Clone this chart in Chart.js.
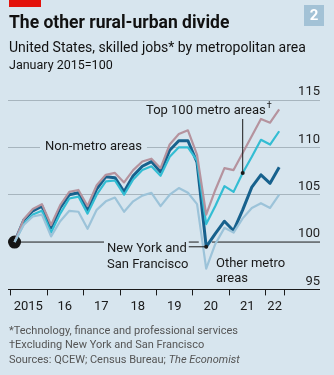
<!DOCTYPE html>
<html>
<head>
<meta charset="utf-8">
<script src="https://cdn.jsdelivr.net/npm/chart.js@4.4.1/dist/chart.umd.min.js"></script>
<style>
  html, body { margin: 0; padding: 0; background: #d7e5ee; }
  #wrap { position: relative; width: 334px; height: 375px; overflow: hidden;
          font-family: Roboto, sans-serif; color: #111; }
  #wrap div { position: absolute; white-space: nowrap; line-height: 1; }
  #red { left: 9px; top: 0; width: 32px; height: 7px; background: #e3120b; }
  #num { left: 304px; top: 5px; width: 20px; height: 21px; background: #a3c2d6; color: #fff;
         font: bold 15px Roboto, sans-serif; text-align: center; line-height: 21px !important; }
  #title { left: 9px; top: 14px; font-size: 17.5px; font-weight: bold; }
  #sub { left: 9px; top: 40px; font-size: 14px; }
  #base { left: 9px; top: 59px; font-size: 12.5px; }
  .foot { left: 9px; font-size: 11px; color: #555; }
  canvas { position: absolute; left: 0; top: 0; }
</style>
</head>
<body>
<div id="wrap">
  <canvas id="chart" width="334" height="375"></canvas>
  <div id="red"></div>
  <div id="num">2</div>
  <div id="title">The other rural-urban divide</div>
  <div id="sub">United States, skilled jobs* by metropolitan area</div>
  <div id="base">January 2015=100</div>
  <div class="foot" style="top:325px">*Technology, finance and professional services</div>
  <div class="foot" style="top:339px">†Excluding New York and San Francisco</div>
  <div class="foot" style="top:354px">Sources: QCEW; Census Bureau; <i>The Economist</i></div>
</div>
<script>
const quarters = [
  "2015Q1","2015Q2","2015Q3","2015Q4","2016Q1","2016Q2","2016Q3","2016Q4",
  "2017Q1","2017Q2","2017Q3","2017Q4","2018Q1","2018Q2","2018Q3","2018Q4",
  "2019Q1","2019Q2","2019Q3","2019Q4","2020Q1","2020Q2","2020Q3","2020Q4",
  "2021Q1","2021Q2","2021Q3","2021Q4","2022Q1","2022Q2"
];
const otherMetro = [
  100.0, 101.8, 102.7, 102.9, 100.6, 102.2, 103.3, 103.2,
  101.4, 103.4, 104.3, 104.7, 103.2, 104.3, 104.9, 105.2,
  103.8, 105.0, 105.7, 105.2, 104.0, 97.2, 99.8, 101.5,
  101.0, 102.5, 103.6, 104.1, 103.6, 105.0
];
const nonMetro = [
  100.0, 102.4, 103.5, 104.0, 101.8, 103.9, 105.3, 105.5,
  103.8, 106.0, 107.1, 107.3, 106.3, 107.6, 108.5, 108.8,
  107.8, 110.3, 111.4, 111.8, 109.2, 102.9, 105.5, 107.8,
  107.6, 109.4, 111.2, 113.0, 112.6, 114.0
];
const top100 = [
  100.0, 101.9, 102.9, 103.3, 101.0, 103.0, 104.6, 104.8,
  103.0, 105.0, 106.4, 106.5, 105.0, 106.6, 107.6, 108.0,
  107.0, 109.0, 110.0, 110.0, 108.6, 101.9, 103.8, 105.9,
  105.3, 107.3, 109.0, 110.8, 110.3, 111.7
];
const nySf = [
  100.0, 102.3, 103.3, 103.8, 101.5, 103.6, 105.0, 105.2,
  103.4, 105.6, 106.9, 106.8, 105.3, 107.0, 108.0, 108.5,
  107.4, 109.7, 110.7, 110.7, 108.4, 99.5, 100.9, 102.2,
  101.2, 103.4, 105.8, 107.1, 106.2, 107.9
];
const yearTicks = [2015, 2016, 2017, 2018, 2019, 2020, 2021, 2022, 2022.5];
const yearLabels = ["2015", "16", "17", "18", "19", "20", "21", "22"];

// quarter label -> middle of the quarter, in decimal years
const qx = quarters.map(q => +q.slice(0, 4) + (+q.slice(5) - 1) / 4 + 0.125);
const pts = vals => vals.map((v, i) => ({ x: qx[i], y: v }));
const labelPos = yearLabels.map((_, i) => (yearTicks[i] + yearTicks[i + 1]) / 2);

const FONT = 'Roboto, sans-serif';
const INK = '#1a1a1a';
const BG = '#d7e5ee';
const AS = 13; // annotation font size

function txt(ctx, s, x, y, size, align) {
  ctx.font = size + 'px ' + FONT;
  ctx.textAlign = align || 'left';
  ctx.textBaseline = 'middle';
  ctx.fillText(s, x, y);
  return ctx.measureText(s).width;
}

const annotations = {
  id: 'annotations',
  beforeDatasetsDraw(chart) {
    const { ctx, scales: { x, y }, chartArea } = chart;
    ctx.save();
    // label over the 110 gridline
    ctx.font = AS + 'px ' + FONT;
    const w = ctx.measureText('Non-metro areas').width;
    const nx = 45, ny = y.getPixelForValue(110);
    ctx.fillStyle = BG;
    ctx.fillRect(nx - 5, ny - 9, w + 10, 18);
    ctx.fillStyle = INK;
    txt(ctx, 'Non-metro areas', nx, ny - 1, AS);

    // 100 line, broken by the New York label
    const y100 = y.getPixelForValue(100);
    const nyX = 107;
    ctx.font = AS + 'px ' + FONT;
    const nyW = ctx.measureText('New York and').width;
    ctx.strokeStyle = INK;
    ctx.lineWidth = 1;
    ctx.beginPath();
    ctx.moveTo(chartArea.left, y100); ctx.lineTo(nyX - 3, y100);
    ctx.moveTo(nyX + nyW + 2, y100); ctx.lineTo(nyX + nyW + 12, y100);
    ctx.moveTo(x.getPixelForValue(2020.53), y100); ctx.lineTo(chartArea.right, y100);
    ctx.stroke();
    ctx.restore();
  },
  afterDatasetsDraw(chart) {
    const { ctx, scales: { x, y } } = chart;
    ctx.save();
    ctx.fillStyle = INK;
    ctx.strokeStyle = INK;
    ctx.lineWidth = 1;

    // x axis tick marks
    const yb = y.getPixelForValue(95);
    ctx.beginPath();
    yearTicks.forEach(v => {
      const px = Math.round(x.getPixelForValue(v)) + 0.5;
      ctx.moveTo(px, yb); ctx.lineTo(px, yb + 6);
    });
    ctx.stroke();

    // New York and San Francisco
    const nyX = 107;
    const nyW = txt(ctx, 'New York and', nyX, 249, AS);
    txt(ctx, 'San Francisco', nyX, 265, AS);
    const low = chart.getDatasetMeta(3).data[21];
    ctx.beginPath();
    ctx.moveTo(nyX + nyW + 2, low.y); ctx.lineTo(low.x, low.y);
    ctx.stroke();
    ctx.beginPath(); ctx.arc(low.x, low.y, 2, 0, Math.PI * 2); ctx.fill();

    // Other metro areas
    txt(ctx, 'Other metro', 216, 264, AS);
    txt(ctx, 'areas', 216, 279, AS);

    // Top 100 metro areas
    const tw = txt(ctx, 'Top 100 metro areas', 146, 111, AS);
    txt(ctx, '†', 146 + tw + 1, 106, 9);
    const tp = chart.getDatasetMeta(2).data[25];
    ctx.beginPath();
    ctx.moveTo(tp.x, 119); ctx.lineTo(tp.x, tp.y);
    ctx.stroke();
    ctx.beginPath(); ctx.arc(tp.x, tp.y, 2, 0, Math.PI * 2); ctx.fill();
    ctx.restore();
  }
};

new Chart(document.getElementById('chart'), {
  type: 'line',
  data: {
    datasets: [
      { label: 'Other metro areas', data: pts(otherMetro), borderColor: '#9cc3d9', borderWidth: 2.2 },
      { label: 'Non-metro areas', data: pts(nonMetro), borderColor: '#b5939e', borderWidth: 2.2 },
      { label: 'Top 100 metro areas', data: pts(top100), borderColor: '#33bdd3', borderWidth: 2.2 },
      {
        label: 'New York and San Francisco', data: pts(nySf), borderColor: '#17618d', borderWidth: 3,
        pointRadius: c => c.dataIndex === 0 ? 5 : 0,
        pointBackgroundColor: '#151515', pointBorderColor: '#151515'
      }
    ]
  },
  options: {
    responsive: false,
    animation: false,
    events: [],
    clip: false,
    layout: { padding: { left: 8, right: 14, top: 100, bottom: 50 } },
    elements: { point: { radius: 0 }, line: { tension: 0, borderJoinStyle: 'round' } },
    plugins: { legend: { display: false }, tooltip: { enabled: false } },
    scales: {
      x: {
        type: 'linear',
        min: 2015 - 2 / 36.5,
        max: 2015 + 310 / 36.5,
        grid: { display: false, drawTicks: false },
        border: { display: false },
        afterBuildTicks: s => { s.ticks = labelPos.map(v => ({ value: v })); },
        ticks: {
          autoSkip: false, maxRotation: 0, padding: 10,
          color: INK, font: { family: FONT, size: 13 },
          callback: (v, i) => yearLabels[i]
        }
      },
      y: {
        position: 'right',
        min: 95, max: 115,
        grid: {
          drawTicks: false,
          color: c => c.tick.value === 95 ? INK : c.tick.value === 100 ? 'rgba(0,0,0,0)' : '#a7b5be',
          lineWidth: 1
        },
        border: { display: false },
        ticks: {
          stepSize: 5, mirror: true, padding: 0, labelOffset: -8,
          color: '#222', font: { family: FONT, size: 13 }
        }
      }
    }
  },
  plugins: [annotations]
});
</script>
</body>
</html>
